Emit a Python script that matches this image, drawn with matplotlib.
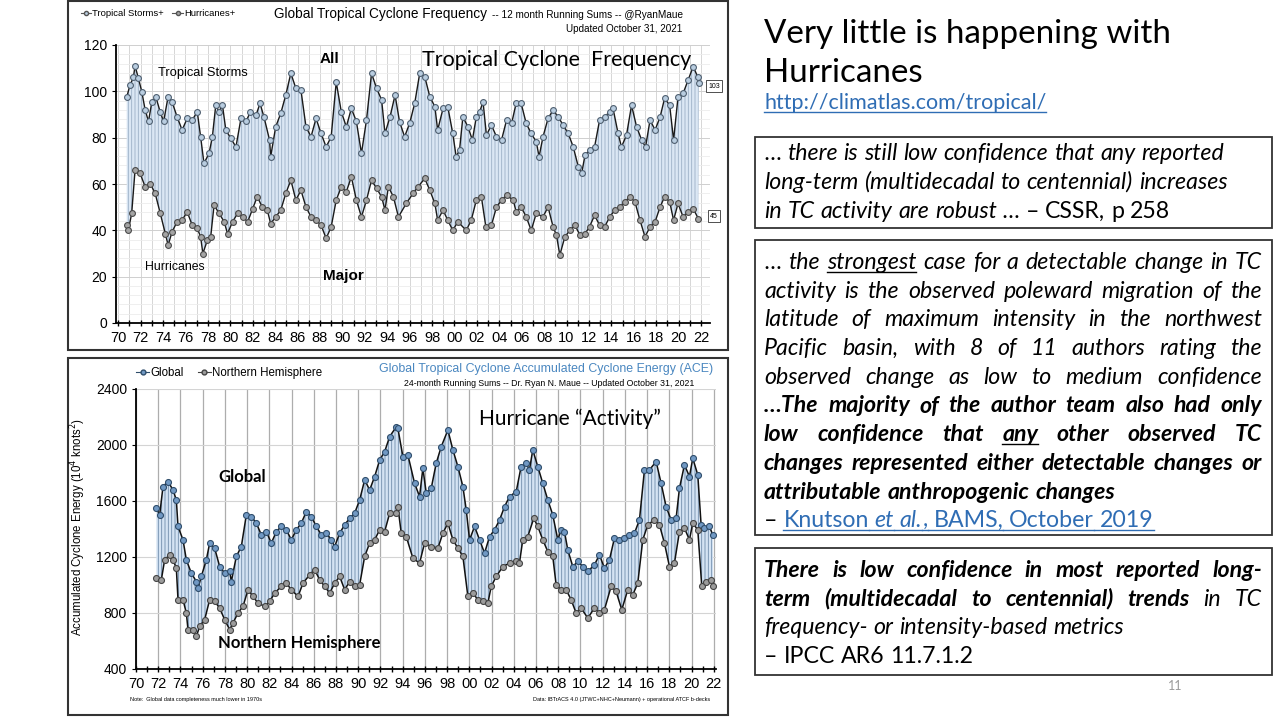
import matplotlib
matplotlib.use("Agg")
import matplotlib.pyplot as plt
from matplotlib.lines import Line2D
from matplotlib.patches import Rectangle
import numpy as np

# ---------------- data ----------------
# 12-month running sums, tropical storms (all) and hurricanes
ts_years = [1970.75, 1971.05, 1971.35, 1971.5, 1971.8, 1972.1, 1972.4, 1972.7, 1973.0, 1973.35,
            1973.75, 1974.05, 1974.45, 1974.8, 1975.25, 1975.7, 1976.15, 1976.6, 1977.05, 1977.35,
            1977.65, 1978.1, 1978.4, 1978.7, 1979.0, 1979.3, 1979.6, 1980.05, 1980.5, 1980.95,
            1981.4, 1981.8, 1982.3, 1982.65, 1983.0, 1983.5, 1983.6, 1984.05, 1984.5, 1984.95,
            1985.4, 1985.85, 1986.3, 1986.75, 1987.2, 1987.65, 1988.1, 1988.55, 1989.0, 1989.45,
            1989.9, 1990.35, 1990.8, 1991.25, 1991.7, 1992.15, 1992.6, 1993.05, 1993.5, 1993.8,
            1994.25, 1994.7,
            1995.1, 1995.55, 1996.0, 1996.45, 1996.9, 1997.35, 1997.8, 1998.25, 1998.5, 1998.98,
            1999.4, 1999.85, 2000.15, 2000.45, 2000.75, 2001.2, 2001.6, 2001.95, 2002.25, 2002.55,
            2002.85, 2003.3, 2003.75, 2004.2, 2004.65, 2005.1, 2005.5, 2005.95, 2006.4, 2006.85,
            2007.3, 2007.55, 2007.9, 2008.35, 2008.8, 2009.25, 2009.7, 2010.15, 2010.6, 2011.05,
            2011.35, 2011.65, 2012.05, 2012.5, 2012.95, 2013.4, 2013.85, 2014.15, 2014.6, 2014.9,
            2015.35, 2015.8, 2016.25, 2016.7, 2017.05, 2017.45, 2017.9, 2018.35, 2018.75, 2019.2,
            2019.55, 2019.95, 2020.4, 2020.85, 2021.3, 2021.7, 2021.8]
ts_vals = [97.4, 102.7, 106, 111, 105.6, 99.9, 92, 87, 95.5, 97.7,
           91, 87, 97.7, 95.5, 89, 83.3, 88.3, 87.6, 91.2, 80.4,
           68.9, 73.2, 80.4, 94, 91.2, 94, 83.3, 79.7, 76, 88.3,
           87, 91.2, 89.8, 94.8, 89, 79, 71.8, 84.7, 90.5, 98.4,
           107.8, 101.3, 100.6, 84.7, 80.4, 88.3, 81.8, 76, 80.4, 104,
           91.2, 84.7, 92.6, 87, 73.2, 87.6, 107.8, 101.3, 96.3, 81.8,
           89, 98.4,
           86.9, 80.4, 86.2, 94.8, 107.8, 106.3, 97.7, 93.4, 83.3, 92.6,
           93.4, 81.8, 71.8, 74.6, 89, 84.7, 79, 89, 91.2, 95.5,
           81.1, 85.4, 80.4, 79, 87.6, 86.2, 94.8, 94.8, 86.2, 81.8,
           78.2, 71.8, 80.4, 88.3, 91.9, 89, 85.4, 81.8, 76, 67.4,
           64.6, 72.5, 74.6, 76, 87.6, 89, 91.2, 92.6, 81.8, 76,
           81.1, 94, 84.7, 79, 76, 87.6, 83.3, 89, 97, 94,
           79, 97.7, 99.1, 104.9, 110.7, 106.3, 103.5]

hu_years = [1970.75, 1970.9, 1971.2, 1971.5, 1971.95, 1972.4, 1972.85, 1973.3, 1973.75, 1974.2,
            1974.45, 1974.8, 1975.25, 1975.7, 1976.15, 1976.6, 1977.05, 1977.35, 1977.55, 1977.95,
            1978.25, 1978.55, 1979.0, 1979.45, 1979.75, 1980.2, 1980.65, 1981.1, 1981.55, 1982.0,
            1982.4, 1982.85, 1983.3, 1983.6, 1984.05, 1984.5, 1984.95, 1985.4, 1985.85, 1986.3,
            1986.75, 1987.2, 1987.65, 1988.1, 1988.55, 1989.0, 1989.45, 1989.9, 1990.35, 1990.8,
            1991.25, 1991.7, 1992.15, 1992.6, 1993.05, 1993.5, 1993.8, 1994.1, 1994.55, 1995.0,
            1995.7, 1996.3, 1996.75, 1997.35, 1997.8, 1998.25, 1998.5, 1998.98, 1999.4, 1999.85,
            2000.3, 2001.05, 2001.5, 2001.95, 2002.4, 2002.8, 2003.3, 2003.75, 2004.2, 2004.65,
            2005.25, 2005.5, 2005.95, 2006.4, 2006.85, 2007.3, 2007.9, 2008.35, 2008.8, 2009.1,
            2009.4, 2009.85, 2010.3, 2010.75, 2011.2, 2011.65, 2012.05, 2012.5, 2012.95, 2013.4,
            2013.85, 2014.3, 2014.75, 2015.2, 2015.65, 2016.1, 2016.55, 2017.0, 2017.45, 2017.9,
            2018.35, 2018.75, 2019.2, 2019.55, 2019.95, 2020.4, 2020.85, 2021.3, 2021.75]
hu_vals = [42.2, 40, 47.3, 66, 64.6, 58.8, 60.2, 55.9, 47.3, 38.6,
           33.6, 39.3, 43.7, 44.4, 48, 42.2, 40.8, 37.2, 30, 35.7,
           37.2, 50.9, 47.3, 43.7, 38.6, 43.7, 47.3, 45.8, 43.7, 49.4,
           54.5, 50.1, 48.7, 42.9, 45.8, 48.7, 55.9, 61.7, 53, 57.3,
           50.1, 45.8, 44.4, 42.2, 36.5, 41.5, 53, 58.8, 56.6, 63.1,
           53, 45.8, 53, 61.7, 58.1, 54.5, 48.7, 58.8, 54.5, 45.8,
           51.6, 55.9, 58.8, 62.4, 57.3, 51.6, 44.4, 48.7, 44.4, 40,
           43.7, 40, 44.4, 53, 54.5, 41.5, 42.2, 50.1, 53, 55.2,
           53, 48, 50.1, 45.8, 40, 47.3, 45.8, 50.1, 41.5, 37.9,
           29.3, 37.2, 40, 42.2, 37.9, 38.6, 41.5, 46.5, 42.2, 41.5,
           45.8, 48.7, 50.1, 52.3, 54.5, 52.3, 44.4, 37.2, 41.5, 43.7,
           50.1, 54.5, 52.3, 44.4, 51.6, 45.8, 48, 49.4, 45.1]

# 24-month running ACE sums, global and northern hemisphere
glob_years = [1971.83, 1972.13, 1972.43, 1972.88, 1973.33, 1973.63, 1973.78, 1974.23, 1974.53, 1974.98,
              1975.43, 1975.58, 1975.88, 1976.33, 1976.63, 1977.08, 1977.53, 1977.98, 1978.43, 1978.58,
              1979.03, 1979.48, 1979.93, 1980.38, 1980.83, 1981.28, 1981.73, 1982.18, 1982.63, 1983.08,
              1983.53, 1983.98, 1984.43, 1984.88, 1985.33, 1985.78, 1986.23, 1986.68, 1987.13, 1987.58,
              1987.88, 1988.33, 1988.78, 1989.23, 1989.68, 1990.13, 1990.58, 1991.03, 1991.48, 1991.93,
              1992.38, 1992.83, 1993.43,
              1993.57, 1994.02, 1994.47, 1995.07, 1995.52, 1995.82, 1996.12, 1996.57, 1997.02, 1997.47,
              1998.07, 1998.52, 1998.97, 1999.42, 1999.72, 2000.02, 2000.47, 2000.92, 2001.37, 2001.82,
              2002.27, 2002.72, 2003.17, 2003.62, 2004.22, 2004.66, 2005.11, 2005.41, 2005.71, 2006.16,
              2006.61, 2007.06, 2007.51, 2007.96, 2008.26, 2008.56, 2008.86, 2009.31, 2009.76, 2010.21,
              2010.66, 2011.26, 2011.71, 2012.16, 2012.61, 2013.06, 2013.51, 2013.96, 2014.41, 2014.86,
              2015.31, 2015.76, 2016.21, 2016.81, 2017.26, 2017.71, 2018.16, 2018.61, 2018.91, 2019.36,
              2019.81, 2020.11, 2020.56, 2020.86, 2021.16, 2021.61, 2021.91]
glob_vals = [1549, 1501, 1703, 1739, 1679, 1608, 1418, 1323, 1180, 1085,
             1025, 978, 1061, 1180, 1299, 1263, 1132, 1085, 1097, 1025,
             1204, 1275, 1501, 1489, 1442, 1358, 1382, 1299, 1382, 1418,
             1394, 1323, 1394, 1442, 1525, 1489, 1418, 1358, 1370, 1323,
             1275, 1370, 1430, 1477, 1513, 1608, 1751, 1679, 1775, 1893,
             1953, 2060, 2131,
             2119, 1917, 1929, 1727, 1632, 1834, 1656, 1691, 1870, 1988,
             2107, 1965, 1846, 1703, 1537, 1323, 1418, 1323, 1228, 1346,
             1394, 1465, 1560, 1632, 1667, 1846, 1870, 1822, 1965, 1846,
             1727, 1608, 1501, 1323, 1394, 1382, 1251, 1132, 1168, 1132,
             1097, 1144, 1216, 1120, 1180, 1335, 1323, 1335, 1358, 1370,
             1465, 1822, 1822, 1882, 1727, 1560, 1465, 1477, 1691, 1858,
             1775, 1905, 1787, 1430, 1406, 1418, 1358]

nh_years = [1971.83, 1972.28, 1972.58, 1973.03, 1973.33, 1973.63, 1973.78, 1974.23, 1974.53, 1974.68,
            1975.13, 1975.43, 1975.73, 1976.18, 1976.63, 1977.08, 1977.53, 1977.98, 1978.43, 1978.73,
            1979.18, 1979.63, 1980.08, 1980.53, 1980.98, 1981.58, 1982.03, 1982.48, 1983.08, 1983.53,
            1983.98, 1984.58, 1985.03, 1985.63, 1986.08, 1986.53, 1986.98, 1987.43, 1987.88, 1988.33,
            1988.78, 1989.23, 1989.68, 1990.13, 1990.58, 1991.03, 1991.48, 1991.93, 1992.38, 1992.83,
            1993.43,
            1993.57, 1993.87, 1994.32, 1994.92, 1995.52, 1995.97, 1996.57, 1997.17, 1997.62, 1998.07,
            1998.52, 1998.97, 1999.42, 1999.87, 2000.32, 2000.77, 2001.22, 2001.67, 2001.97, 2002.42,
            2003.02, 2003.62, 2004.22, 2004.51, 2004.81, 2005.26, 2005.8, 2006.16, 2006.61, 2007.06,
            2007.51, 2007.81, 2008.26, 2008.71, 2009.16, 2009.61, 2010.06, 2010.66, 2011.26, 2011.71,
            2012.16, 2012.76, 2013.21, 2013.72, 2014.26, 2014.71, 2015.16, 2015.61, 2016.06, 2016.66,
            2017.11, 2017.56, 2018.01, 2018.46, 2018.91, 2019.36, 2019.81, 2020.11, 2020.56, 2020.92,
            2021.31, 2021.76, 2021.95]
nh_vals = [1049, 1037, 1180, 1216, 1180, 1120, 895, 895, 800, 681,
           681, 633, 704, 752, 895, 883, 835, 752, 681, 728,
           800, 847, 966, 918, 871, 847, 883, 942, 990, 1013,
           966, 918, 1013, 1073, 1109, 1037, 990, 942, 1013, 1061,
           966, 1025, 990, 1002, 1204, 1299, 1323, 1394, 1382, 1513,
           1513,
           1560, 1370, 1346, 1192, 1156, 1299, 1275, 1263, 1370, 1442,
           1323, 1263, 1204, 918, 942, 895, 883, 871, 990, 1061,
           1132, 1156, 1168, 1156, 1323, 1346, 1477, 1418, 1323, 1239,
           1204, 1002, 966, 966, 895, 800, 835, 764, 835, 800,
           823, 990, 954, 823, 966, 930, 1013, 1323, 1430, 1465,
           1430, 1299, 1132, 1156, 1382, 1406, 1323, 1442, 1394, 990,
           1025, 1037, 990]

# ---------------- figure ----------------
plt.rcParams['font.family'] = ['Liberation Sans', 'DejaVu Sans']
plt.rcParams['hatch.linewidth'] = 0.6
SLIDE = ['Lato', 'DejaVu Sans']
W, H = 1280, 720
fig = plt.figure(figsize=(12.8, 7.2), dpi=100)


def fx(px):
    return px / W


def fy(py):
    return 1 - py / H


def frame(x0, y0, x1, y1, lw=1.5, ec='#333333'):
    fig.add_artist(Rectangle((fx(x0), fy(y1)), fx(x1) - fx(x0), fy(y0) - fy(y1),
                             transform=fig.transFigure, fill=False, ec=ec, lw=lw))


def year_axis(ax, lo, hi):
    ax.set_xlim(lo, hi)
    ax.set_xticks(np.arange(1970, 2023, 2))
    ax.set_xticklabels([f"{y % 100:02d}" for y in range(1970, 2023, 2)])
    ax.set_xticks(np.arange(1970, 2023, 1), minor=True)
    ax.tick_params(axis='x', which='both', direction='inout', length=4, width=1, labelsize=10.5, pad=4)
    ax.tick_params(axis='y', direction='out', length=3, labelsize=10)
    for s in ['top', 'right']:
        ax.spines[s].set_visible(False)
    for s in ['left', 'bottom']:
        ax.spines[s].set_linewidth(1.3)


frame(68, 1, 728, 350)
frame(68, 358, 728, 715)

# ---- top chart: frequency ----
ax1 = fig.add_axes([fx(116), fy(323), fx(710) - fx(116), fy(45) - fy(323)])
year_axis(ax1, 1969.8, 2022.8)
ax1.set_ylim(0, 120)
ax1.set_yticks(np.arange(0, 121, 20))
ax1.set_yticks(np.arange(0, 121, 4), minor=True)
ax1.tick_params(axis='y', which='minor', length=0)
ax1.grid(axis='x', which='both', color='#d6d6d6', lw=0.7)
ax1.grid(axis='y', which='major', color='#cfcfcf', lw=0.7)
ax1.grid(axis='y', which='minor', color='#ececec', lw=0.6)
ax1.set_axisbelow(True)

ax1.fill(np.r_[ts_years, hu_years[::-1]], np.r_[ts_vals, hu_vals[::-1]],
         facecolor='#dbe7f4', edgecolor='#9cb0c6', hatch='|||||', lw=0, zorder=2)
ax1.plot(ts_years, ts_vals, '-o', color='#1a1a1a', lw=1, ms=4.2,
         mfc='#b9cde0', mec='#4f5f70', mew=0.8, zorder=4)
ax1.plot(hu_years, hu_vals, '-o', color='#1a1a1a', lw=1, ms=4.2,
         mfc='#a4a4a4', mec='#4a4a4a', mew=0.8, zorder=4)

h1 = [Line2D([], [], color='#555555', lw=0.8, marker='o', ms=3, mfc='#b9cde0', mec='#555555'),
      Line2D([], [], color='#555555', lw=0.8, marker='o', ms=3, mfc='#a4a4a4', mec='#555555')]
fig.legend(h1, ['Tropical Storms+', 'Hurricanes+'], loc='center left', bbox_to_anchor=(fx(72), fy(14)),
           ncol=2, frameon=False, fontsize=6.8, handlelength=1.1, handletextpad=0.15, columnspacing=0.9)
fig.text(fx(274), fy(14), 'Global Tropical Cyclone Frequency', fontsize=9.8, va='center')
fig.text(fx(492), fy(15), '-- 12 month Running Sums -- @RyanMaue', fontsize=7.2, va='center')
fig.text(fx(682), fy(29), 'Updated October 31, 2021', fontsize=7.1, va='center', ha='right')

fig.text(fx(158), fy(73), 'Tropical Storms', fontsize=9.3, va='center')
fig.text(fx(320), fy(59), 'All', fontsize=11, weight='bold', va='center')
fig.text(fx(557), fy(60), 'Tropical Cyclone  Frequency', fontsize=15.5, family=SLIDE,
         va='center', ha='center')
fig.text(fx(145), fy(267), 'Hurricanes', fontsize=8.8, va='center')
fig.text(fx(323), fy(276), 'Major', fontsize=11, weight='bold', va='center')
for val, py in [('103', 86), ('45', 216)]:
    fig.text(fx(714), fy(py), val, fontsize=5, ha='center', va='center',
             bbox=dict(boxstyle='square,pad=0.35', fc='white', ec='#333333', lw=0.6))

# ---- bottom chart: ACE ----
ax2 = fig.add_axes([fx(136), fy(669), fx(716) - fx(136), fy(389) - fy(669)])
year_axis(ax2, 1970, 2022.2)
ax2.set_ylim(400, 2400)
ax2.set_yticks(np.arange(400, 2401, 400))
ax2.grid(axis='x', which='major', color='#adadad', lw=0.9)
ax2.grid(axis='y', color='#d4d4d4', lw=0.8)
ax2.set_axisbelow(True)

ax2.fill(np.r_[glob_years, nh_years[::-1]], np.r_[glob_vals, nh_vals[::-1]],
         facecolor='#d4e3f3', edgecolor='#6f8cab', hatch='|||||', lw=0, zorder=2)
ax2.plot(glob_years, glob_vals, '-o', color='#111111', lw=1.1, ms=4.3,
         mfc='#7199c4', mec='#2f4d6b', mew=0.8, zorder=4)
ax2.plot(nh_years, nh_vals, '-o', color='#111111', lw=1.1, ms=4.3,
         mfc='#9c9c9c', mec='#444444', mew=0.8, zorder=4)

h2 = [Line2D([], [], color='#2f4d6b', lw=0.8, marker='o', ms=3.5, mfc='#7199c4', mec='#2f4d6b'),
      Line2D([], [], color='#444444', lw=0.8, marker='o', ms=3.5, mfc='#9c9c9c', mec='#444444')]
fig.legend(h2, ['Global', 'Northern Hemisphere'], loc='center left', bbox_to_anchor=(fx(126), fy(373)),
           ncol=2, frameon=False, fontsize=8.3, handlelength=1.1, handletextpad=0.15, columnspacing=1.2)
fig.text(fx(379), fy(369), 'Global Tropical Cyclone Accumulated Cyclone Energy (ACE)',
         fontsize=8.9, color='#4a87c0', va='center')
fig.text(fx(549), fy(383), '24-month Running Sums -- Dr. Ryan N. Maue -- Updated October 31, 2021',
         fontsize=6.3, ha='center', va='center')
fig.text(fx(78), fy(527), r'Accumulated Cyclone Energy (10$^4$ knots$^2$)', fontsize=8.3,
         rotation=90, ha='center', va='center')
fig.text(fx(218), fy(477), 'Global', fontsize=12, weight='bold', family=SLIDE, va='center')
fig.text(fx(218), fy(643), 'Northern Hemisphere', fontsize=12, weight='bold', family=SLIDE, va='center')
fig.text(fx(570), fy(419), 'Hurricane \u201cActivity\u201d', fontsize=15, family=SLIDE,
         ha='center', va='center')
fig.text(fx(130), fy(700), 'Note:  Global data completeness much lower in 1970s', fontsize=4, va='center')
fig.text(fx(710), fy(700), 'Data: IBTrACS 4.0 (JTWC+NHC+Neumann) + operational ATCF b-decks',
         fontsize=4, va='center', ha='right')

# ---------------- right-hand text panel ----------------
renderer = fig.canvas.get_renderer()
LINK = '#2f6db4'
IT = dict(style='italic')
BI = dict(style='italic', weight='bold')
UI = dict(style='italic', u=True)
UBI = dict(style='italic', weight='bold', u=True)
RG = dict()
LK = dict(color=LINK, u=True)
LKI = dict(color=LINK, style='italic', u=True)


def width_of(txt, size, **kw):
    t = fig.text(0, 0, txt, fontsize=size, family=SLIDE, **kw)
    w = t.get_window_extent(renderer).width
    t.remove()
    return w


def slide_line(segs, y, size, justify=False, x0=764, x1=1262):
    words = []
    pending = False
    for txt, st in segs:
        for i, p in enumerate(txt.split(' ')):
            if i > 0:
                pending = True
            if p:
                words.append((p, st, pending and len(words) > 0))
                pending = False
    space = width_of('x x', size) - width_of('xx', size)
    items = []
    for w, st, sp in words:
        props = {k: v for k, v in st.items() if k != 'u'}
        t = fig.text(0, fy(y), w, fontsize=size, family=SLIDE, va='baseline', **props)
        items.append((t, t.get_window_extent(renderer).width, st.get('u', False),
                      st.get('color', 'black'), sp))
    n_gaps = sum(1 for it in items if it[4])
    total = sum(it[1] for it in items)
    gap = (x1 - x0 - total) / n_gaps if (justify and n_gaps) else space
    x = x0
    prev_und = False
    for t, w, und, col, sp in items:
        start = x
        if sp:
            x += gap
        t.set_x(fx(x))
        if und:
            ux = start if prev_und else x
            fig.add_artist(Line2D([fx(ux), fx(x + w)], [fy(y + 3), fy(y + 3)],
                                  transform=fig.transFigure, color=col, lw=1))
        prev_und = und
        x += w


title_size = 20 * 408 / width_of('Very little is happening with', 20)
fig.text(fx(764), fy(43), 'Very little is happening with', fontsize=title_size, family=SLIDE, va='baseline')
fig.text(fx(764), fy(82), 'Hurricanes', fontsize=title_size, family=SLIDE, va='baseline')
link_size = 13 * 282 / width_of('http://climatlas.com/tropical/', 13)
slide_line([('http://climatlas.com/tropical/', LK)], 109, link_size)

body = 14 * 458 / width_of('\u2026 there is still low confidence that any reported', 14, style='italic')

frame(755, 137, 1272, 228, lw=1.3)
slide_line([('\u2026 there is still low confidence that any reported', IT)], 160, body)
slide_line([('long-term (multidecadal to centennial) increases', IT)], 189, body)
slide_line([('in TC activity are robust \u2026 ', IT), ('\u2013 CSSR, p 258', RG)], 218, body)

frame(755, 240, 1272, 535, lw=1.3)
box2 = [
    ([('\u2026 the ', IT), ('strongest', UI), (' case for a detectable change in TC', IT)], True),
    ([('activity is the observed poleward migration of the', IT)], True),
    ([('latitude of maximum intensity in the northwest', IT)], True),
    ([('Pacific basin, with 8 of 11 authors rating the', IT)], True),
    ([('observed change as low to medium confidence', IT)], True),
    ([('\u2026The majority of the author team also had only', BI)], True),
    ([('low confidence that ', BI), ('any', UBI), (' other observed TC', BI)], True),
    ([('changes represented either detectable changes or', BI)], True),
    ([('attributable anthropogenic changes', BI)], False),
    ([('\u2013 ', RG), ('Knutson ', LK), ('et al.', LKI), (', BAMS, October 2019', LK)], False),
]
for i, (segs, just) in enumerate(box2):
    slide_line(segs, 269 + i * 28.7, body, justify=just)

frame(755, 548, 1272, 675, lw=1.3)
box3 = [
    ([('There is low confidence in most reported long-', BI)], True),
    ([('term (multidecadal to centennial) trends', BI), (' in TC', IT)], True),
    ([('frequency- or intensity-based metrics', IT)], False),
    ([('\u2013 IPCC AR6 11.7.1.2', RG)], False),
]
for i, (segs, just) in enumerate(box3):
    slide_line(segs, 577 + i * 28.7, body, justify=just)

fig.text(fx(1175), fy(686), '11', fontsize=9, color='#9a9a9a', family=SLIDE, ha='center', va='center')

fig.savefig('out.png', dpi=100)
